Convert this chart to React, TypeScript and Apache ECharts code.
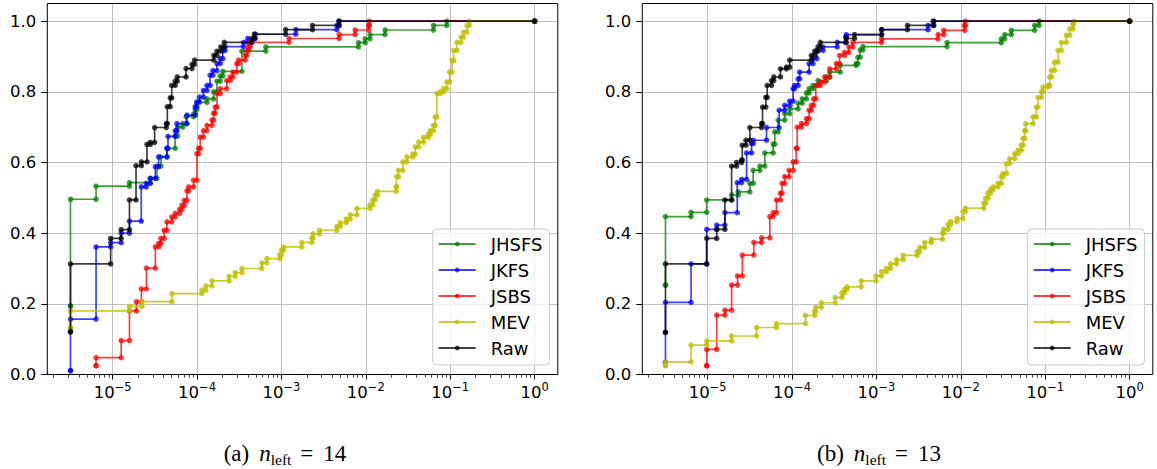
import React, { useEffect, useRef } from "react";
import * as echarts from "echarts";

// ---------- data (x = value on log axis, y = ECDF level reached at that x) ----------
const SERIES_NAMES = ["JHSFS", "JKFS", "JSBS", "MEV", "Raw"];
const SERIES_COLORS = [
  "rgba(0,128,0,0.75)",
  "rgba(0,0,255,0.75)",
  "rgba(255,0,0,0.75)",
  "rgba(191,191,0,0.8)",
  "rgba(0,0,0,0.75)",
];

// Panel (a)
const leftJHSFS = [
  [3.16e-6, 0.194], [3.16e-6, 0.496], [6.35e-6, 0.533], [1.58e-5, 0.543], [2.79e-5, 0.555],
  [3.35e-5, 0.59], [3.73e-5, 0.616], [4.4e-5, 0.64], [5.5e-5, 0.675], [5.89e-5, 0.7],
  [6.76e-5, 0.71], [7.41e-5, 0.73], [9.1e-5, 0.737], [9.5e-5, 0.75], [9.95e-5, 0.77],
  [1.31e-4, 0.78], [1.57e-4, 0.8], [1.72e-4, 0.83], [1.88e-4, 0.845], [2.02e-4, 0.858],
  [3.4e-4, 0.915], [6.53e-4, 0.927], [8.18e-3, 0.939], [9.82e-3, 0.95], [1.12e-2, 0.962],
  [1.69e-2, 0.975], [6.34e-2, 0.988], [9.12e-2, 1.0], [1, 1.0],
];
const leftJKFS = [
  [3.16e-6, 0.011], [3.16e-6, 0.157], [6.35e-6, 0.361], [9.46e-6, 0.373], [1.26e-5, 0.4],
  [1.58e-5, 0.434], [2.18e-5, 0.531], [2.5e-5, 0.541], [2.79e-5, 0.555], [3.2e-5, 0.588],
  [3.5e-5, 0.616], [4.4e-5, 0.64], [4.52e-5, 0.674], [5.52e-5, 0.69], [5.77e-5, 0.71],
  [7.59e-5, 0.734], [9.5e-5, 0.758], [9.95e-5, 0.771], [1.07e-4, 0.785], [1.19e-4, 0.804],
  [1.31e-4, 0.818], [1.43e-4, 0.847], [1.54e-4, 0.86], [1.72e-4, 0.88], [1.88e-4, 0.894],
  [2.02e-4, 0.917], [2.15e-4, 0.928], [3.55e-4, 0.94], [3.98e-4, 0.951], [4.9e-4, 0.963],
  [1.48e-3, 0.976], [4.53e-3, 0.988], [4.79e-3, 1.0], [1, 1.0],
];
const leftJSBS = [
  [6.35e-6, 0.025], [6.35e-6, 0.048], [1.26e-5, 0.096], [1.58e-5, 0.18], [1.91e-5, 0.206],
  [2.19e-5, 0.242], [2.51e-5, 0.301], [3.2e-5, 0.361], [3.51e-5, 0.371], [3.72e-5, 0.385],
  [4.07e-5, 0.408], [4.4e-5, 0.432], [5.01e-5, 0.446], [5.5e-5, 0.456], [6.21e-5, 0.467],
  [6.61e-5, 0.479], [7.05e-5, 0.493], [7.59e-5, 0.52], [7.94e-5, 0.531], [9.1e-5, 0.55],
  [9.95e-5, 0.625], [1.04e-4, 0.64], [1.09e-4, 0.672], [1.19e-4, 0.69], [1.31e-4, 0.705],
  [1.5e-4, 0.72], [1.57e-4, 0.74], [1.64e-4, 0.757], [1.72e-4, 0.795], [1.88e-4, 0.809],
  [2.25e-4, 0.832], [2.47e-4, 0.842], [2.65e-4, 0.856], [2.96e-4, 0.88], [3.1e-4, 0.89],
  [3.72e-4, 0.903], [3.89e-4, 0.917], [4.07e-4, 0.928], [4.26e-4, 0.94], [1.23e-3, 0.951],
  [4.83e-3, 0.962], [7.48e-3, 0.975], [1.08e-2, 0.988], [1.1e-2, 1.0], [1, 1.0],
];
const leftMEV = [
  [3.16e-6, 0.133], [3.16e-6, 0.18], [1.58e-5, 0.193], [2.22e-5, 0.206], [5.04e-5, 0.229],
  [1.14e-4, 0.239], [1.27e-4, 0.251], [1.5e-4, 0.265], [2.4e-4, 0.278], [2.83e-4, 0.288],
  [3.4e-4, 0.3], [5.85e-4, 0.316], [6.7e-4, 0.328], [9.55e-4, 0.338], [1.0e-3, 0.352],
  [1.06e-3, 0.361], [1.74e-3, 0.374], [2.29e-3, 0.386], [2.36e-3, 0.398], [2.82e-3, 0.408],
  [4.53e-3, 0.419], [4.97e-3, 0.43], [5.85e-3, 0.44], [6.52e-3, 0.452], [7.82e-3, 0.47],
  [1.12e-2, 0.48], [1.21e-2, 0.494], [1.29e-2, 0.508], [1.37e-2, 0.518], [2.29e-2, 0.531],
  [2.33e-2, 0.56], [2.44e-2, 0.578], [2.75e-2, 0.602], [3.06e-2, 0.616], [3.61e-2, 0.624],
  [3.85e-2, 0.644], [4.22e-2, 0.658], [4.83e-2, 0.671], [5.53e-2, 0.68], [5.79e-2, 0.69],
  [6.34e-2, 0.705], [6.64e-2, 0.729], [6.95e-2, 0.795], [7.6e-2, 0.8], [8.34e-2, 0.809],
  [9.12e-2, 0.828], [9.82e-2, 0.856], [0.105, 0.889], [0.11, 0.917], [0.12, 0.94],
  [0.134, 0.955], [0.144, 0.969], [0.158, 0.988], [0.168, 1.0], [1, 1.0],
];
const leftRaw = [
  [3.16e-6, 0.121], [3.16e-6, 0.313], [9.46e-6, 0.385], [1.26e-5, 0.41], [1.58e-5, 0.494],
  [1.89e-5, 0.591], [2.19e-5, 0.602], [2.55e-5, 0.651], [2.79e-5, 0.657], [3.14e-5, 0.699],
  [4.32e-5, 0.71], [4.44e-5, 0.758], [4.81e-5, 0.783], [5.01e-5, 0.818], [5.5e-5, 0.83],
  [5.82e-5, 0.842], [7.41e-5, 0.866], [8.71e-5, 0.878], [9.33e-5, 0.89], [1.58e-4, 0.903],
  [1.72e-4, 0.915], [1.91e-4, 0.927], [2.1e-4, 0.94], [4.47e-4, 0.951], [4.79e-4, 0.963],
  [1.12e-3, 0.976], [2.33e-3, 0.988], [4.83e-3, 1.0], [1, 1.0],
];

// Panel (b)
const rightJHSFS = [
  [3.16e-6, 0.253], [3.16e-6, 0.447], [6.35e-6, 0.459], [9.73e-6, 0.494], [1.92e-5, 0.508],
  [2.3e-5, 0.517], [3.16e-5, 0.541], [3.46e-5, 0.578], [4.15e-5, 0.59], [4.75e-5, 0.627],
  [5.97e-5, 0.652], [6.24e-5, 0.687], [6.84e-5, 0.72], [8.18e-5, 0.738], [9.38e-5, 0.752],
  [1.18e-4, 0.768], [1.32e-4, 0.78], [1.48e-4, 0.797], [1.59e-4, 0.809], [1.77e-4, 0.818],
  [2.03e-4, 0.832], [2.55e-4, 0.842], [2.79e-4, 0.856], [3.72e-4, 0.875], [5.75e-4, 0.88],
  [6.03e-4, 0.898], [6.41e-4, 0.919], [6.9e-4, 0.928], [6.87e-3, 0.939], [3.02e-2, 0.95],
  [3.31e-2, 0.962], [3.97e-2, 0.974], [7.5e-2, 0.988], [8.45e-2, 1.0], [1, 1.0],
];
const rightJKFS = [
  [3.16e-6, 0.034], [3.16e-6, 0.204], [6.35e-6, 0.313], [9.73e-6, 0.411], [1.28e-5, 0.423],
  [1.6e-5, 0.458], [2.24e-5, 0.543], [2.52e-5, 0.552], [2.89e-5, 0.627], [3.31e-5, 0.654],
  [3.46e-5, 0.663], [4.98e-5, 0.699], [7.02e-5, 0.748], [8.18e-5, 0.762], [9.38e-5, 0.774],
  [1.03e-4, 0.809], [1.07e-4, 0.818], [1.18e-4, 0.837], [1.23e-4, 0.856], [1.59e-4, 0.88],
  [1.77e-4, 0.894], [1.97e-4, 0.917], [2.32e-4, 0.927], [3.43e-4, 0.94], [4.31e-4, 0.955],
  [4.39e-4, 0.962], [1.15e-3, 0.976], [4.09e-3, 0.988], [4.69e-3, 1.0], [1, 1.0],
];
const rightJSBS = [
  [9.73e-6, 0.025], [9.73e-6, 0.071], [1.28e-5, 0.168], [1.6e-5, 0.182], [1.92e-5, 0.253],
  [2.26e-5, 0.279], [2.57e-5, 0.338], [3.52e-5, 0.374], [4.35e-5, 0.387], [5.45e-5, 0.447],
  [5.97e-5, 0.458], [6.53e-5, 0.494], [7.28e-5, 0.513], [7.59e-5, 0.541], [8.18e-5, 0.56],
  [9.23e-5, 0.578], [1.03e-4, 0.602], [1.12e-4, 0.64], [1.15e-4, 0.7], [1.29e-4, 0.71],
  [1.48e-4, 0.724], [1.59e-4, 0.748], [1.69e-4, 0.762], [1.8e-4, 0.78], [1.91e-4, 0.818],
  [2.16e-4, 0.828], [2.43e-4, 0.842], [2.79e-4, 0.865], [3.34e-4, 0.88], [3.66e-4, 0.903],
  [4.19e-4, 0.912], [4.71e-4, 0.927], [5.25e-4, 0.94], [1.15e-3, 0.95], [5.37e-3, 0.962],
  [6.27e-3, 0.974], [1.11e-2, 0.988], [1.13e-2, 1.0], [1, 1.0],
];
const rightMEV = [
  [3.16e-6, 0.025], [3.16e-6, 0.036], [6.35e-6, 0.083], [9.73e-6, 0.095], [1.92e-5, 0.109],
  [3.79e-5, 0.133], [6.53e-5, 0.144], [1.44e-4, 0.167], [1.85e-4, 0.178], [1.91e-4, 0.19],
  [2.22e-4, 0.203], [3.25e-4, 0.218], [3.9e-4, 0.231], [4.19e-4, 0.241], [4.47e-4, 0.248],
  [6.59e-4, 0.265], [9.91e-4, 0.279], [1.15e-3, 0.291], [1.31e-3, 0.3], [1.47e-3, 0.313],
  [1.73e-3, 0.325], [2.07e-3, 0.337], [3.03e-3, 0.348], [3.26e-3, 0.36], [3.73e-3, 0.374],
  [4.48e-3, 0.383], [6.05e-3, 0.4], [6.27e-3, 0.411], [7.06e-3, 0.424], [7.52e-3, 0.433],
  [9.02e-3, 0.442], [1.06e-2, 0.461], [1.13e-2, 0.471], [1.87e-2, 0.485], [1.97e-2, 0.499],
  [2.1e-2, 0.513], [2.24e-2, 0.523], [2.41e-2, 0.531], [2.76e-2, 0.541], [3.02e-2, 0.56],
  [3.16e-2, 0.569], [3.47e-2, 0.597], [3.79e-2, 0.611], [4.35e-2, 0.625], [4.76e-2, 0.635],
  [5.21e-2, 0.649], [5.46e-2, 0.668], [5.71e-2, 0.69], [5.87e-2, 0.71], [7.16e-2, 0.729],
  [7.85e-2, 0.757], [8.22e-2, 0.784], [8.99e-2, 0.8], [9.42e-2, 0.814], [0.108, 0.818],
  [0.113, 0.842], [0.118, 0.861], [0.129, 0.884], [0.142, 0.917], [0.155, 0.94],
  [0.178, 0.96], [0.195, 0.978], [0.213, 0.992], [0.217, 1.0], [1, 1.0],
];
const rightRaw = [
  [3.16e-6, 0.119], [3.16e-6, 0.313], [9.73e-6, 0.385], [1.28e-5, 0.411], [1.6e-5, 0.494],
  [1.92e-5, 0.59], [2.2e-5, 0.6], [2.52e-5, 0.607], [2.57e-5, 0.649], [2.84e-5, 0.663],
  [3.16e-5, 0.699], [4.35e-5, 0.71], [4.47e-5, 0.757], [4.89e-5, 0.784], [5.07e-5, 0.818],
  [5.7e-5, 0.832], [6.07e-5, 0.842], [7.28e-5, 0.865], [8.57e-5, 0.87], [9.38e-5, 0.89],
  [1.69e-4, 0.903], [1.85e-4, 0.915], [2.03e-4, 0.928], [2.16e-4, 0.94], [4.39e-4, 0.951],
  [5.5e-4, 0.962], [1.15e-3, 0.976], [2.33e-3, 0.988], [4.79e-3, 1.0], [1, 1.0],
];

const PANELS = [
  [leftJHSFS, leftJKFS, leftJSBS, leftMEV, leftRaw],
  [rightJHSFS, rightJKFS, rightJSBS, rightMEV, rightRaw],
];

const X_MAJOR_TICKS = [1e-5, 1e-4, 1e-3, 1e-2, 1e-1, 1];
const Y_TICKS = [0, 0.2, 0.4, 0.6, 0.8, 1.0];
const CAPTION_LABELS = ["(a)", "(b)"];
const CAPTION_VALUES = ["14", "13"];

// ---------- layout ----------
const GRIDS = [
  { left: 47.3, top: 3.5, width: 510.5, height: 371 },
  { left: 642.3, top: 3.5, width: 510.5, height: 371 },
];
const LEGEND_LEFT = [432.7, 1027.7];
const CAPTION_X = [285, 879];
const X_MIN = Math.pow(10, -5.775);
const X_MAX = Math.pow(10, 0.275);

function minorTicks() {
  const out = [];
  for (let e = -6; e <= 0; e++) {
    for (let m = 2; m <= 9; m++) out.push(m * Math.pow(10, e));
  }
  return out;
}

function stepPath(steps) {
  const pts = [[steps[0][0], steps[0][1]]];
  for (let i = 1; i < steps.length; i++) {
    pts.push([steps[i][0], steps[i - 1][1]]);
    pts.push([steps[i][0], steps[i][1]]);
  }
  return pts;
}

const SUP = (e) => (e < 0 ? "−" : "") + String(Math.abs(e));

export default function App() {
  const ref = useRef(null);
  useEffect(() => {
    const chart = echarts.init(ref.current, null, { renderer: "svg" });
    const minors = minorTicks();
    const xAxes = [];
    const yAxes = [];
    const series = [];
    const legends = [];
    const graphics = [];
    const serif = "Liberation Serif";

    GRIDS.forEach((g, p) => {
      xAxes.push({
        type: "log",
        logBase: 10,
        gridIndex: p,
        position: "bottom",
        min: X_MIN,
        max: X_MAX,
        axisLine: { show: false },
        axisTick: {
          show: true,
          length: 5,
          customValues: X_MAJOR_TICKS,
          lineStyle: { color: "#000", width: 1 },
        },
        axisLabel: {
          customValues: X_MAJOR_TICKS,
          margin: 6.5,
          formatter: (v) => {
            const e = Math.round(Math.log10(v));
            return "{b|10}{e|" + SUP(e) + "}";
          },
          rich: {
            b: { fontFamily: "DejaVu Sans", fontSize: 16.5, color: "#000", lineHeight: 22 },
            e: { fontFamily: "DejaVu Sans", fontSize: 11.5, color: "#000", verticalAlign: "top" },
          },
        },
        splitLine: {
          show: true,
          lineStyle: { color: "#b0b0b0", width: 0.8 },
        },
      });
      xAxes.push({
        type: "log",
        logBase: 10,
        gridIndex: p,
        position: "bottom",
        min: X_MIN,
        max: X_MAX,
        axisLine: { show: false },
        axisLabel: { show: false },
        splitLine: { show: false },
        axisTick: {
          show: true,
          length: 3,
          customValues: minors,
          lineStyle: { color: "#000", width: 0.8 },
        },
      });
      yAxes.push({
        type: "value",
        gridIndex: p,
        min: 0,
        max: 1.05,
        interval: 0.2,
        axisLine: { show: false },
        axisTick: {
          show: true,
          length: 6,
          customValues: Y_TICKS,
          lineStyle: { color: "#000", width: 1 },
        },
        axisLabel: {
          customValues: Y_TICKS,
          margin: 11,
          fontFamily: "DejaVu Sans",
          fontSize: 16.5,
          color: "#000",
          formatter: (v) => v.toFixed(1),
        },
        splitLine: { show: true, lineStyle: { color: "#b0b0b0", width: 0.8 } },
      });

      PANELS[p].forEach((steps, k) => {
        series.push({
          type: "line",
          name: SERIES_NAMES[k],
          xAxisIndex: p * 2,
          yAxisIndex: p,
          data: stepPath(steps),
          symbol: "circle",
          symbolSize: 5.5,
          showSymbol: true,
          showAllSymbol: true,
          lineStyle: { color: SERIES_COLORS[k], width: 1.7 },
          itemStyle: { color: SERIES_COLORS[k] },
          emphasis: { disabled: true },
          z: 3 + k,
          clip: false,
        });
      });

      legends.push({
        orient: "vertical",
        left: LEGEND_LEFT[p],
        top: 229,
        data: SERIES_NAMES,
        itemWidth: 37,
        itemHeight: 6,
        itemGap: 8,
        padding: [6, 7, 8, 5],
        backgroundColor: "rgba(255,255,255,0.8)",
        borderColor: "#cccccc",
        borderWidth: 1,
        borderRadius: 4,
        selectedMode: false,
        textStyle: {
          fontFamily: "DejaVu Sans",
          fontSize: 18,
          color: "#000",
          padding: [0, 0, 0, 10],
        },
      });

      graphics.push({
        type: "rect",
        shape: { x: g.left, y: g.top, width: g.width, height: g.height },
        style: { fill: "none", stroke: "#000", lineWidth: 1 },
        z: 100,
        silent: true,
      });
      graphics.push({
        type: "text",
        x: CAPTION_X[p],
        y: 453,
        silent: true,
        style: {
          text:
            "{r|" + CAPTION_LABELS[p] + "}{i|n}{s|left}{q|=}{r|" + CAPTION_VALUES[p] + "}",
          align: "center",
          verticalAlign: "middle",
          fill: "#000",
          rich: {
            r: { fontFamily: serif, fontSize: 23, lineHeight: 29, fill: "#000" },
            i: {
              fontFamily: serif,
              fontStyle: "italic",
              fontSize: 23,
              lineHeight: 29,
              fill: "#000",
              padding: [0, 0, 0, 10],
            },
            s: {
              fontFamily: serif,
              fontSize: 15.5,
              lineHeight: 16,
              verticalAlign: "bottom",
              fill: "#000",
            },
            q: {
              fontFamily: serif,
              fontSize: 23,
              lineHeight: 29,
              fill: "#000",
              padding: [0, 10, 0, 9],
            },
          },
        },
      });
    });

    chart.setOption({
      animation: false,
      backgroundColor: "#fff",
      grid: GRIDS.map((g) => ({ ...g, show: false, containLabel: false })),
      xAxis: xAxes,
      yAxis: yAxes,
      legend: legends,
      series,
      graphic: graphics,
    });
    return () => chart.dispose();
  }, []);

  return (
    <div
      ref={ref}
      style={{ position: "absolute", left: 0, top: 0, width: 1157, height: 469 }}
    />
  );
}
